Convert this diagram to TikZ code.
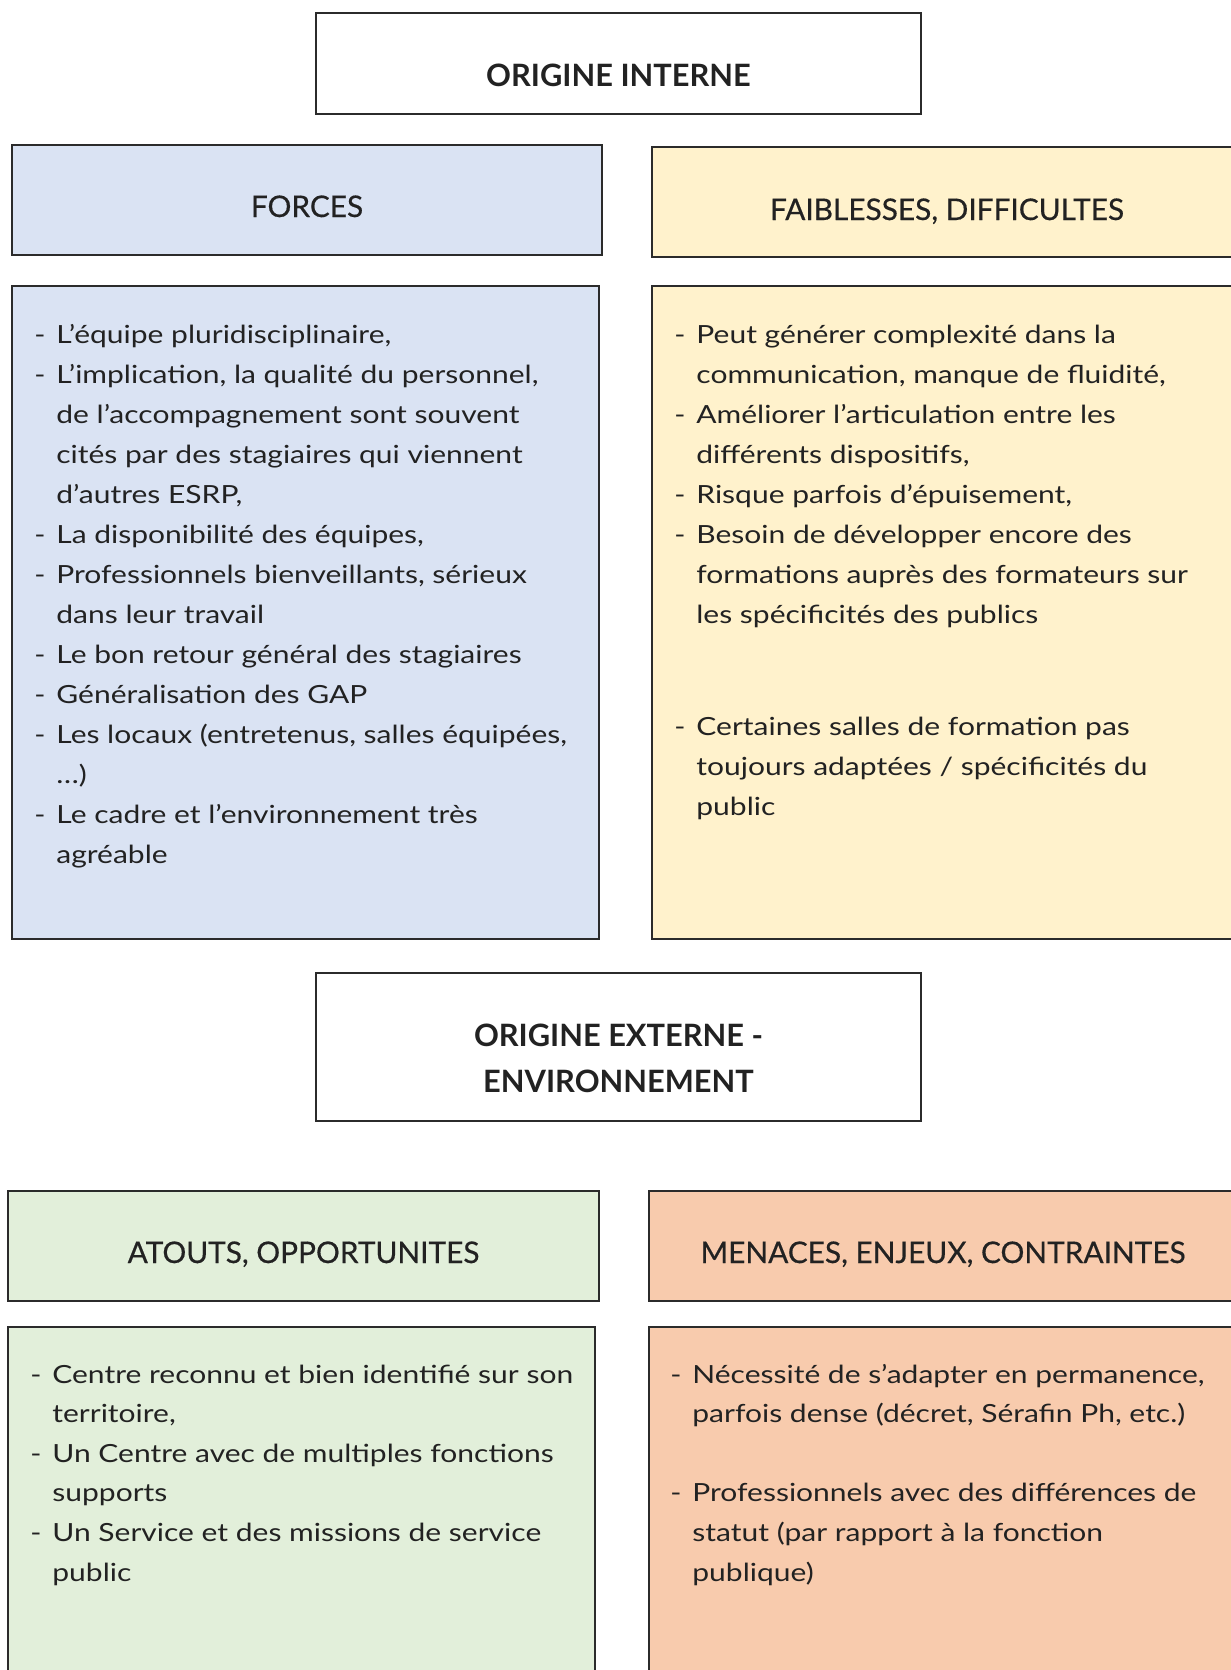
\documentclass[tikz,border=0pt]{standalone}
\usepackage{fontspec}
\setmainfont{Lato}
\newfontfamily\bodyfont{Lato}[FakeStretch=1.2]
\newfontfamily\titlefont{Lato}[FakeBold=0.5]
\usetikzlibrary{fit}
\definecolor{cblue}{HTML}{DAE3F3}
\definecolor{cyellow}{HTML}{FFF2CC}
\definecolor{cgreen}{HTML}{E2EFDA}
\definecolor{corange}{HTML}{F8CBAD}
\definecolor{ink}{HTML}{222222}
\definecolor{edge}{HTML}{2B2B2B}
\newcommand{\itm}[1]{\makebox[11pt][l]{-}#1}
\newcommand{\cnt}[1]{\hspace*{11pt}#1}
\begin{document}
\begin{tikzpicture}[x=0.5pt,y=-0.5pt,
  box/.style={draw=edge, line width=0.65pt, inner sep=0pt, rectangle},
  title/.style={anchor=base, text=ink, font=\titlefont\fontsize{14.9}{17}\selectfont, inner sep=0pt},
  head/.style={anchor=base, text=ink, font=\bfseries\fontsize{15.4}{17}\selectfont, inner sep=0pt},
  body/.style={anchor=base west, text=ink, inner sep=0pt, font=\bodyfont\fontsize{12.5}{20}\selectfont}]
\useasboundingbox (0,0) rectangle (1231,1670);
\clip (0,0) rectangle (1231,1670);
\fill[white] (0,0) rectangle (1231,1670);

% ORIGINE INTERNE
\node[box, fill=white, fit={(316,13)(921,114)}] (oi) {};
\node[head] (oit) at (618.5,86.5) {ORIGINE INTERNE};

% FORCES
\node[box, fill=cblue, fit={(12,145)(602,255)}] (fh) {};
\node[title] (fht) at (307,217) {FORCES};
\node[box, fill=cblue, fit={(12,286)(599,939)}] (fb) {};
\node[body] (fbt) at (34,343) {\begin{tabular}[t]{@{}l@{}}
\itm{L’équipe pluridisciplinaire,}\\
\itm{L’implication, la qualité du personnel,}\\
\cnt{de l’accompagnement sont souvent}\\
\cnt{cités par des stagiaires qui viennent}\\
\cnt{d’autres ESRP,}\\
\itm{La disponibilité des équipes,}\\
\itm{Professionnels bienveillants, sérieux}\\
\cnt{dans leur travail}\\
\itm{Le bon retour général des stagiaires}\\
\itm{Généralisation des GAP}\\
\itm{Les locaux (entretenus, salles équipées,}\\
\cnt{…)}\\
\itm{Le cadre et l’environnement très}\\
\cnt{agréable}
\end{tabular}};

% FAIBLESSES
\node[box, fill=cyellow, fit={(652,147)(1242,257)}] (wh) {};
\node[title] (wht) at (947,220) {FAIBLESSES, DIFFICULTES};
\node[box, fill=cyellow, fit={(652,286)(1242,939)}] (wb) {};
\node[body] (wbt) at (674,343) {\begin{tabular}[t]{@{}l@{}}
\itm{Peut générer complexité dans la}\\
\cnt{communication, manque de fluidité,}\\
\itm{Améliorer l’articulation entre les}\\
\cnt{différents dispositifs,}\\
\itm{Risque parfois d’épuisement,}\\
\itm{Besoin de développer encore des}\\
\cnt{formations auprès des formateurs sur}\\
\cnt{les spécificités des publics}\\[36pt]
\itm{Certaines salles de formation pas}\\
\cnt{toujours adaptées / spécificités du}\\
\cnt{public}
\end{tabular}};

% ORIGINE EXTERNE
\node[box, fill=white, fit={(316,973)(921,1121)}] (oe) {};
\node[head] (oet1) at (618.5,1046) {ORIGINE EXTERNE -};
\node[head] (oet2) at (618.5,1092) {ENVIRONNEMENT};

% ATOUTS
\node[box, fill=cgreen, fit={(8,1191)(599,1301)}] (ah) {};
\node[title] (aht) at (303.5,1263) {ATOUTS, OPPORTUNITES};
\node[box, fill=cgreen, fit={(8,1327)(595,1690)}] (ab) {};
\node[body, font=\bodyfont\fontsize{12.5}{19.8}\selectfont] (abt) at (30,1383) {\begin{tabular}[t]{@{}l@{}}
\itm{Centre reconnu et bien identifié sur son}\\
\cnt{territoire,}\\
\itm{Un Centre avec de multiples fonctions}\\
\cnt{supports}\\
\itm{Un Service et des missions de service}\\
\cnt{public}
\end{tabular}};

% MENACES
\node[box, fill=corange, fit={(649,1191)(1237,1301)}] (mh) {};
\node[title] (mht) at (943,1263) {MENACES, ENJEUX, CONTRAINTES};
\node[box, fill=corange, fit={(649,1327)(1237,1690)}] (mb) {};
\node[body, font=\bodyfont\fontsize{12.5}{19.8}\selectfont] (mbt) at (670,1383) {\begin{tabular}[t]{@{}l@{}}
\itm{Nécessité de s’adapter en permanence,}\\
\cnt{parfois dense (décret, Sérafin Ph, etc.)}\\[19.8pt]
\itm{Professionnels avec des différences de}\\
\cnt{statut (par rapport à la fonction}\\
\cnt{publique)}
\end{tabular}};
\end{tikzpicture}
\end{document}
